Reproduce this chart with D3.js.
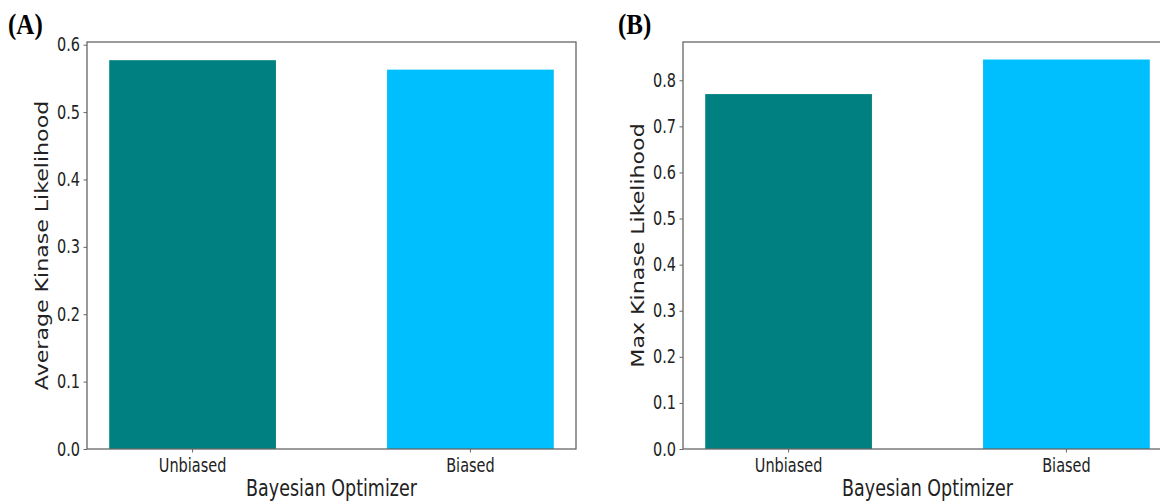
<!DOCTYPE html>
<html>
<head>
<meta charset="utf-8">
<script src="https://cdn.jsdelivr.net/npm/d3@7"></script>
<style>
  body { margin: 0; background: #fff; overflow: hidden; }
  svg { display: block; }
</style>
</head>
<body>
<svg id="chart" width="1160" height="501"></svg>
<script>
// data
const categories = ["Unbiased", "Biased"];
const avgLikelihood = [0.577, 0.563];
const maxLikelihood = [0.770, 0.845];
const avgTicks = [0.0, 0.1, 0.2, 0.3, 0.4, 0.5, 0.6];
const maxTicks = [0.0, 0.1, 0.2, 0.3, 0.4, 0.5, 0.6, 0.7, 0.8];

const barColors = ["#008080", "#00bfff"];

// the original figure is stretched vertically, text too
const STRETCH = 1.3;
const TOP = 42,
    PLOT_W = 489,
    PLOT_H = 407;
const FONT = "'DejaVu Sans', sans-serif";

const svg = d3.select("#chart");

function drawPanel(opts) {
    const g = svg.append("g")
        .attr("transform", "translate(" + opts.left + "," + TOP + ")");

    const x = d3.scaleBand()
        .domain(categories)
        .range([0, PLOT_W])
        .paddingInner(0.4)
        .paddingOuter(0.08);

    const y = d3.scaleLinear()
        .domain([0, opts.yMax])
        .range([PLOT_H, 0]);

    g.selectAll("rect.bar")
        .data(opts.values)
        .enter()
        .append("rect")
        .attr("class", "bar")
        .attr("x", (d, i) => x(categories[i]))
        .attr("y", d => y(d))
        .attr("width", x.bandwidth())
        .attr("height", d => PLOT_H - y(d))
        .attr("fill", (d, i) => barColors[i]);

    // frame
    g.append("rect")
        .attr("width", PLOT_W)
        .attr("height", PLOT_H)
        .attr("fill", "none")
        .attr("stroke", "#666")
        .attr("stroke-width", 1.3);

    const yAxis = g.append("g")
        .call(d3.axisLeft(y)
            .tickValues(opts.ticks)
            .tickFormat(d3.format(".1f"))
            .tickSize(3.5)
            .tickPadding(3.5));
    yAxis.select(".domain").remove();
    yAxis.selectAll("line").attr("stroke", "#666");
    yAxis.selectAll("text")
        .attr("font-family", FONT)
        .attr("font-size", 14.5)
        .attr("fill", "#222")
        .attr("transform", "scale(1," + STRETCH + ")");

    const xAxis = g.append("g")
        .attr("transform", "translate(0," + PLOT_H + ")")
        .call(d3.axisBottom(x).tickSize(3.5));
    xAxis.select(".domain").remove();
    xAxis.selectAll("line").attr("stroke", "#666");
    xAxis.selectAll("text")
        .attr("font-family", FONT)
        .attr("font-size", 14.5)
        .attr("fill", "#222")
        .attr("y", 7.4)
        .attr("transform", "scale(1," + STRETCH + ")");

    g.append("text")
        .attr("transform", "translate(" + PLOT_W / 2 + "," + (PLOT_H + 47) + ") scale(1," + STRETCH + ")")
        .attr("text-anchor", "middle")
        .attr("font-family", FONT)
        .attr("font-size", 17.5)
        .attr("fill", "#222")
        .text("Bayesian Optimizer");

    g.append("text")
        .attr("transform", "translate(-39," + PLOT_H / 2 + ") scale(1," + STRETCH + ") rotate(-90)")
        .attr("text-anchor", "middle")
        .attr("font-family", FONT)
        .attr("font-size", 17)
        .attr("fill", "#222")
        .text(opts.yLabel);

    svg.append("text")
        .attr("transform", "translate(" + opts.tagX + ",34) scale(1,1.15)")
        .attr("font-family", "'Liberation Serif', 'Times New Roman', serif")
        .attr("font-weight", "bold")
        .attr("font-size", 25)
        .attr("fill", "#000")
        .text(opts.tag);
}

drawPanel({
    left: 87,
    yMax: 0.604,
    values: avgLikelihood,
    ticks: avgTicks,
    yLabel: "Average Kinase Likelihood",
    tag: "(A)",
    tagX: 8
});

drawPanel({
    left: 683,
    yMax: 0.883,
    values: maxLikelihood,
    ticks: maxTicks,
    yLabel: "Max Kinase Likelihood",
    tag: "(B)",
    tagX: 618
});
</script>
</body>
</html>
